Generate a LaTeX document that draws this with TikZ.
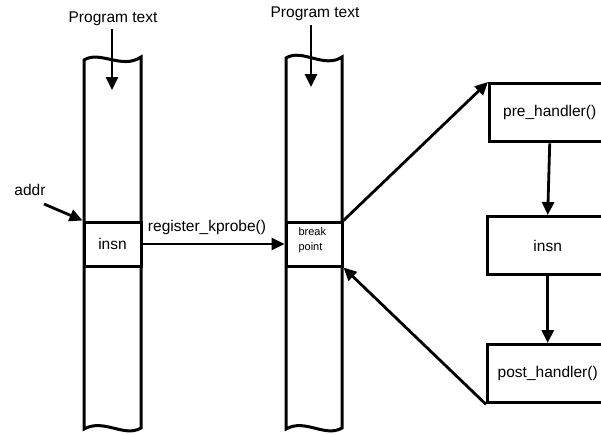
\documentclass[tikz,border=0pt]{standalone}
\usepackage{fontspec}
\setmainfont{Liberation Sans}
\usetikzlibrary{arrows.meta}
\tikzset{
  strip/.style={draw=black, line width=3pt, fill=white},
  cell/.style={draw=black, line width=3pt, fill=white, inner sep=0pt},
  handlerbox/.style={draw=black, line width=3.4pt, fill=white, inner sep=0pt,
    minimum width=120pt, minimum height=58pt},
  lbl/.style={font=\fontsize{15.5}{18}\selectfont, inner sep=1pt},
  flow/.style={line width=2.8pt, -{Triangle[length=13pt,width=12pt]}},
}
\begin{document}
\begin{tikzpicture}[x=1pt,y=-1pt]
\useasboundingbox (0,0) rectangle (601,434);
\clip (0,0) rectangle (601,434);

% program text strips with torn ends
\draw[strip] (84,60) .. controls (100,50) and (122,70) .. (141,57)
  -- (141,428) .. controls (124,438) and (104,418) .. (84,429) -- cycle;
\draw[strip] (286,58) .. controls (302,48) and (324,69) .. (342,57)
  -- (342,428) .. controls (325,438) and (305,418) .. (286,429) -- cycle;

% instruction cells
\node[cell, minimum width=57pt, minimum height=44pt, lbl] (insnL) at (112.5,244) {insn};
\node[cell, minimum width=56pt, minimum height=44pt] (bp) at (314,244) {};
\node[font=\fontsize{11}{15}\selectfont, align=left, anchor=west] (bptext) at (295,240) {break\\point};

% labels
\node[lbl] (pt1) at (113,19) {Program text};
\node[lbl] (pt2) at (315,14) {Program text};
\node[lbl] (addr) at (30,190) {addr};
\coordinate (in1) at (112,90);
\coordinate (in2) at (311,87);
\draw[flow] (112,29) -- (in1);
\draw[flow] (311,25) -- (in2);
\draw[flow] (44,204) -- (insnL.north west);

% register_kprobe
\node[lbl, anchor=south] (reg) at (207,236) {register\_kprobe()};
\draw[flow] (insnL.east) -- (bp.west);

% handlers
\node[handlerbox, lbl, anchor=north west] (pre) at (488,82) {pre\_handler()};
\node[handlerbox, lbl, anchor=north west] (ins2) at (486,215) {insn};
\node[handlerbox, lbl, anchor=north west] (post) at (486,343) {post\_handler()};

\draw[flow] (bp.north east) -- (pre.north west);
\draw[flow] (pre.south) -- (ins2.north);
\draw[flow] (ins2.south) -- (post.north);
\draw[flow] (post.south west) -- (bp.south east);
\end{tikzpicture}
\end{document}
